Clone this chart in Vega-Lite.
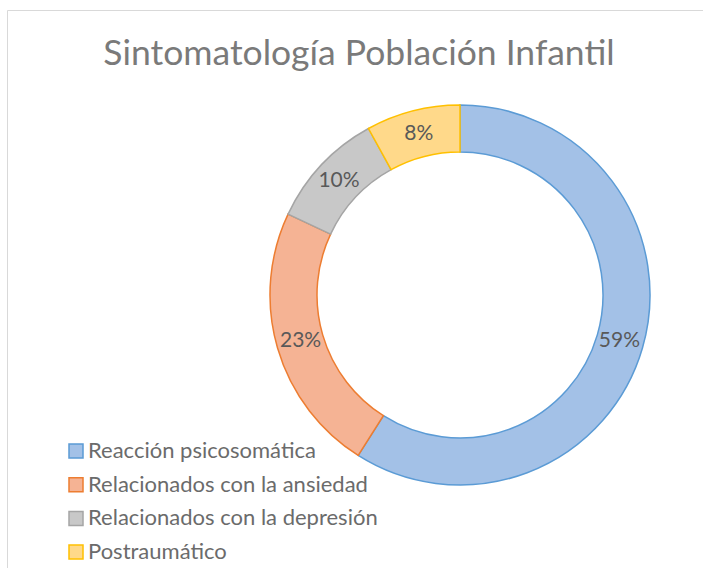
{
  "$schema": "https://vega.github.io/schema/vega-lite/v6.json",
  "autosize": "none",
  "padding": {"left": 7, "top": 10, "right": 0, "bottom": 0},
  "width": 906,
  "height": 570,
  "background": "white",
  "view": {"stroke": "#d9d9d9", "strokeWidth": 1},
  "title": {
    "text": "Sintomatología Población Infantil",
    "anchor": "middle",
    "dx": -101,
    "offset": -90,
    "baseline": "alphabetic",
    "font": "Lato",
    "fontSize": 35.5,
    "fontWeight": "normal",
    "color": "#7a7a7a"
  },
  "config": {
    "view": {"stroke": "#d9d9d9", "strokeWidth": 1},
    "legend": {
      "symbolType": "square",
      "symbolSize": 196,
      "symbolStrokeWidth": 1.5,
      "labelFont": "Lato",
      "labelFontSize": 22,
      "labelColor": "#6b6b6b",
      "rowPadding": 11.7,
      "labelOffset": 1,
      "labelLimit": 400
    }
  },
  "data": {
    "values": [
      {"categoria": "Reacción psicosomática", "value": 59, "label": "59%"},
      {"categoria": "Relacionados con la ansiedad", "value": 23, "label": "23%"},
      {"categoria": "Relacionados con la depresión", "value": 10, "label": "10%"},
      {"categoria": "Postraumático", "value": 8, "label": "8%"}
    ]
  },
  "encoding": {
    "theta": {"field": "value", "type": "quantitative", "stack": true},
    "order": {"field": "value", "sort": "descending"}
  },
  "layer": [
    {
      "mark": {"type": "arc", "radius": 190, "radius2": 143, "strokeWidth": 1.5},
      "encoding": {
        "color": {
          "field": "categoria",
          "type": "nominal",
          "scale": {
            "domain": ["Reacción psicosomática", "Relacionados con la ansiedad", "Relacionados con la depresión", "Postraumático"],
            "range": ["#a3c1e7", "#f5b394", "#c8c8c8", "#ffd98a"]
          },
          "legend": {"orient": "none", "legendX": 58, "legendY": 430, "title": null}
        },
        "stroke": {
          "field": "categoria",
          "type": "nominal",
          "scale": {
            "domain": ["Reacción psicosomática", "Relacionados con la ansiedad", "Relacionados con la depresión", "Postraumático"],
            "range": ["#5b9bd5", "#ed7d31", "#a5a5a5", "#ffc000"]
          },
          "legend": {"orient": "none", "legendX": 58, "legendY": 430, "title": null}
        }
      }
    },
    {
      "mark": {"type": "text", "radius": 166, "font": "Lato", "fontSize": 21, "color": "#595959"},
      "encoding": {"text": {"field": "label", "type": "nominal"}}
    }
  ]
}
